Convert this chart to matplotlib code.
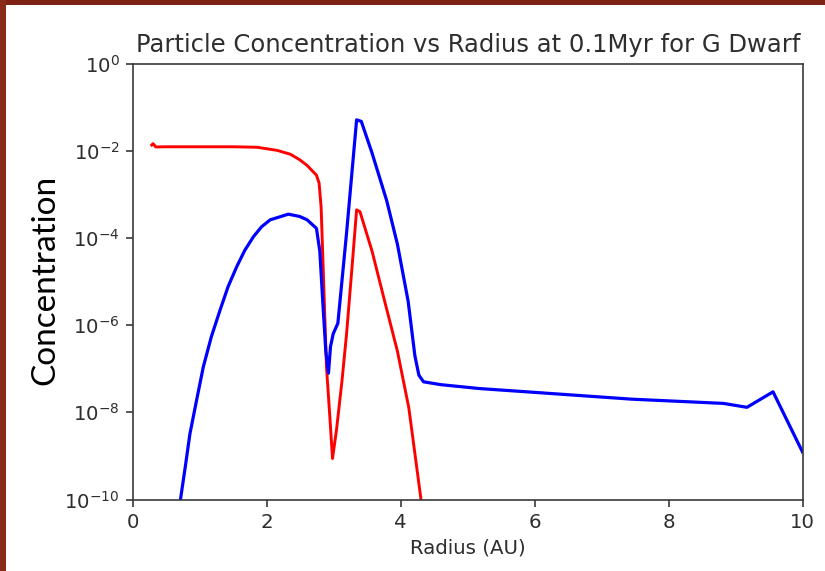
import matplotlib
matplotlib.use("Agg")
import matplotlib.pyplot as plt
from matplotlib.patches import Rectangle

# ---- data ----
red_r = [0.28, 0.30, 0.34, 0.50, 1.00, 1.50, 1.85, 2.15, 2.35, 2.49, 2.60, 2.69,
         2.74, 2.78, 2.81, 2.84, 2.89, 2.94, 2.98, 3.04, 3.12, 3.19, 3.27, 3.34,
         3.39, 3.57, 3.75, 3.95, 4.12, 4.31]
red_c = [1.35e-2, 1.45e-2, 1.22e-2, 1.23e-2, 1.23e-2, 1.23e-2, 1.20e-2, 1.02e-2,
         8.3e-3, 6.2e-3, 4.6e-3, 3.3e-3, 2.75e-3, 1.8e-3, 5.0e-4, 2.2e-5, 1.1e-7,
         7.9e-9, 8.7e-10, 4.0e-9, 5.0e-8, 6.3e-7, 2.0e-5, 4.4e-4, 4.0e-4, 5.0e-5,
         4.0e-6, 2.5e-7, 1.26e-8, 8e-11]

blue_r = [0.68, 0.78, 0.85, 0.95, 1.05, 1.17, 1.30, 1.42, 1.55, 1.67, 1.80, 1.92,
          2.05, 2.32, 2.49, 2.60, 2.74, 2.79, 2.84, 2.88, 2.92, 2.95, 2.99, 3.06,
          3.19, 3.34, 3.41, 3.57, 3.79, 3.95, 4.11, 4.21, 4.27, 4.34, 4.60, 5.18,
          5.88, 7.45, 8.82, 9.17, 9.56, 10.0]
blue_c = [5e-11, 5.5e-10, 3.2e-9, 1.9e-8, 1.1e-7, 5.4e-7, 2.2e-6, 7.6e-6, 2.2e-5,
          5.2e-5, 1.07e-4, 1.8e-4, 2.6e-4, 3.5e-4, 3.1e-4, 2.6e-4, 1.66e-4, 5.0e-5,
          2.5e-6, 2.5e-7, 7.9e-8, 3.2e-7, 6.3e-7, 1.1e-6, 1.3e-4, 5.1e-2, 4.7e-2,
          8.9e-3, 7.1e-4, 7.1e-5, 3.5e-6, 2.0e-7, 7.1e-8, 5.0e-8, 4.3e-8, 3.5e-8,
          2.95e-8, 2.0e-8, 1.6e-8, 1.3e-8, 2.95e-8, 1.23e-9]

x_ticks = [0, 2, 4, 6, 8, 10]
y_ticks = [1e0, 1e-2, 1e-4, 1e-6, 1e-8, 1e-10]

title = "Particle Concentration vs Radius at 0.1Myr for G Dwarf"
xlabel = "Radius (AU)"
ylabel = "Concentration"

# ---- figure ----
fig = plt.figure(figsize=(8.25, 5.71), dpi=100)
fig.patch.set_facecolor("white")
ax = fig.add_axes([133 / 825, 1 - 499.5 / 571, (802.5 - 133) / 825, (499.5 - 63.5) / 571])

ax.plot(red_r, red_c, color="red", lw=2.1)
ax.plot(blue_r, blue_c, color="blue", lw=2.3)

ax.set_yscale("log")
ax.set_xlim(0, 10)
ax.set_ylim(1e-10, 1e0)
ax.set_xticks(x_ticks)
ax.set_yticks(y_ticks)
ax.yaxis.set_minor_locator(matplotlib.ticker.NullLocator())

txt = "#2e2e2e"
for s in ax.spines.values():
    s.set_linewidth(1.2)
    s.set_color("#3a3a3a")
ax.tick_params(axis="both", which="major", length=5, width=1.2, color="#3a3a3a",
               labelsize=14.2, labelcolor=txt, pad=4.5)

ax.set_title(title, fontsize=17.5, color=txt, pad=8)
ax.set_xlabel(xlabel, fontsize=14.2, color=txt, labelpad=5)

fig.text(45 / 825, 1 - 280 / 571, ylabel, rotation=90, ha="center", va="center",
         fontsize=24, family=["Lato", "DejaVu Sans"], color="black")

# dark red frame of the screenshot (top and left edges)
fig.patches.append(Rectangle((0, 1 - 5 / 571), 1, 5 / 571, transform=fig.transFigure,
                             facecolor="#7d2215", edgecolor="none", zorder=10))
fig.patches.append(Rectangle((0, 0), 6 / 825, 1, transform=fig.transFigure,
                             facecolor="#8a2a18", edgecolor="none", zorder=10))

fig.savefig("out.png", dpi=100)
